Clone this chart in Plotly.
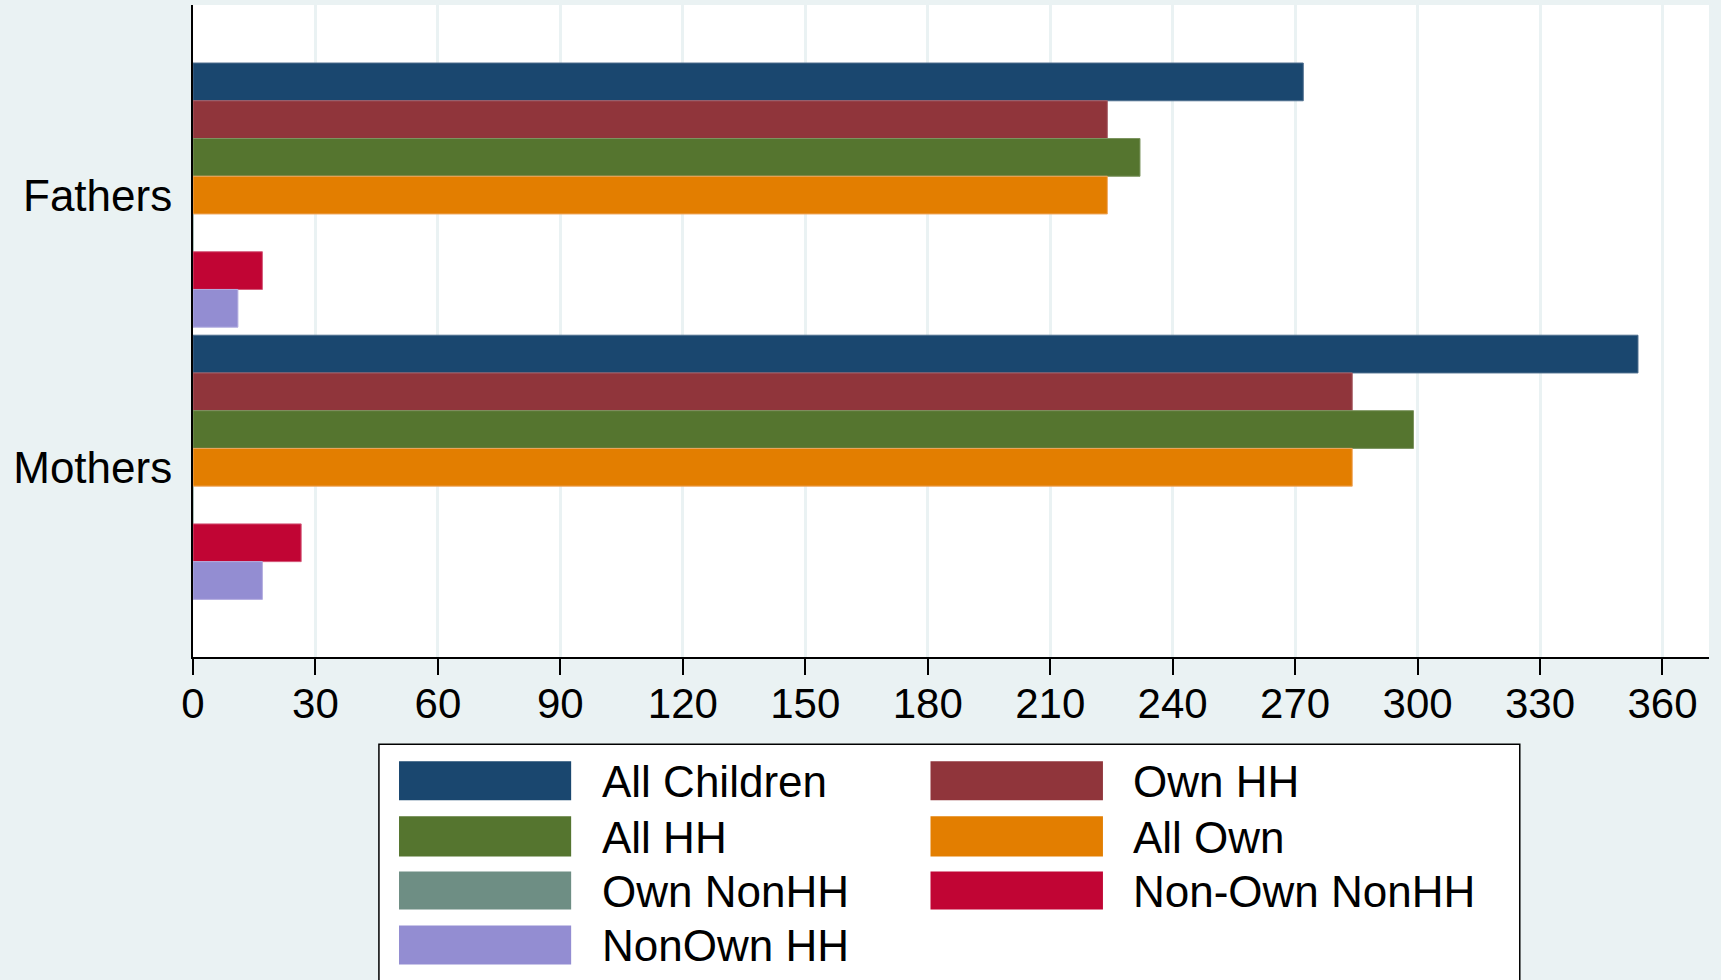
import plotly.graph_objects as go

categories = ["Fathers", "Mothers"]
series_names = ["All Children", "Own HH", "All HH", "All Own", "Own NonHH", "Non-Own NonHH", "NonOwn HH"]
all_children = [272, 354]
own_hh = [224, 284]
all_hh = [232, 299]
all_own = [224, 284]
own_nonhh = [0, 0]
nonown_nonhh = [17, 26.5]
nonown_hh = [11, 17]
x_ticks = [0, 30, 60, 90, 120, 150, 180, 210, 240, 270, 300, 330, 360]

series_values = [all_children, own_hh, all_hh, all_own, own_nonhh, nonown_nonhh, nonown_hh]
colors = ["#1a476f", "#90353b", "#55752f", "#e37e00", "#6e8e84", "#c10534", "#938dd2"]
edge = ["#4d6d8d", "#a9626a", "#7c9460", "#efa860", "#93aba3", "#d45a7a", "#b3aee0"]

W, H = 1721, 980
L, R, T, B = 192.7, 1709.3, 5.0, 656.7
FONT = "Liberation Sans, Arial, sans-serif"

fig = go.Figure()
for name, vals, c, e in zip(series_names, series_values, colors, edge):
    fig.add_trace(go.Bar(
        y=categories, x=vals, name=name, orientation="h",
        marker=dict(color=c, line=dict(color=e, width=1)),
        showlegend=False,
    ))

def px_to_paper_x(px):
    return (px - L) / (R - L)

def px_to_paper_y(py):
    return (B - py) / (B - T)

shapes = []
annotations = []
# legend box
shapes.append(dict(type="rect", xref="paper", yref="paper",
                   x0=px_to_paper_x(378.7), x1=px_to_paper_x(1520),
                   y0=px_to_paper_y(1000), y1=px_to_paper_y(744),
                   line=dict(color="black", width=1.5), fillcolor="white", layer="above"))
col_sw = [(398.8, 571.0), (930.5, 1103.0)]
col_tx = [600, 1131]
rows = [(761, 800), (816, 856), (871, 909), (925, 964)]
for i, (name, c) in enumerate(zip(series_names, colors)):
    r, col = divmod(i, 2)
    y0, y1 = rows[r]
    x0, x1 = col_sw[col]
    shapes.append(dict(type="rect", xref="paper", yref="paper",
                       x0=px_to_paper_x(x0), x1=px_to_paper_x(x1),
                       y0=px_to_paper_y(y1), y1=px_to_paper_y(y0),
                       line=dict(width=0), fillcolor=c, layer="above"))
    annotations.append(dict(xref="paper", yref="paper",
                            x=px_to_paper_x(col_tx[col]), y=px_to_paper_y((y0 + y1) / 2 + 1),
                            text=name, showarrow=False, xanchor="left", yanchor="middle",
                            font=dict(family=FONT, size=44, color="black")))

fig.update_layout(
    width=W, height=H,
    margin=dict(l=L, r=W - R, t=T, b=H - B, pad=0),
    paper_bgcolor="#eaf2f3",
    plot_bgcolor="white",
    barmode="group",
    bargap=8 / 272,
    bargroupgap=0,
    font=dict(family=FONT, color="black"),
    shapes=shapes,
    annotations=annotations,
    showlegend=False,
)
fig.update_xaxes(
    range=[0, 371.4], tickmode="array", tickvals=x_ticks,
    ticktext=[str(v) for v in x_ticks],
    showgrid=True, gridcolor="#eaf2f3", gridwidth=3,
    zeroline=False, showline=True, linecolor="black", linewidth=2,
    ticks="outside", ticklen=16, tickwidth=2, tickcolor="black",
    tickfont=dict(size=42, color="black"), ticklabelstandoff=-7,
)
fig.update_yaxes(
    type="category", categoryorder="array", categoryarray=categories,
    range=[1.697, -0.6985],
    showgrid=False, zeroline=False, showline=True, linecolor="black", linewidth=2,
    ticks="", tickfont=dict(size=44, color="black"), ticklabelstandoff=10,
)

fig.write_html("out.html", config={"displayModeBar": False},
               post_script="document.body.style.margin='0';document.body.style.overflow='hidden';")
